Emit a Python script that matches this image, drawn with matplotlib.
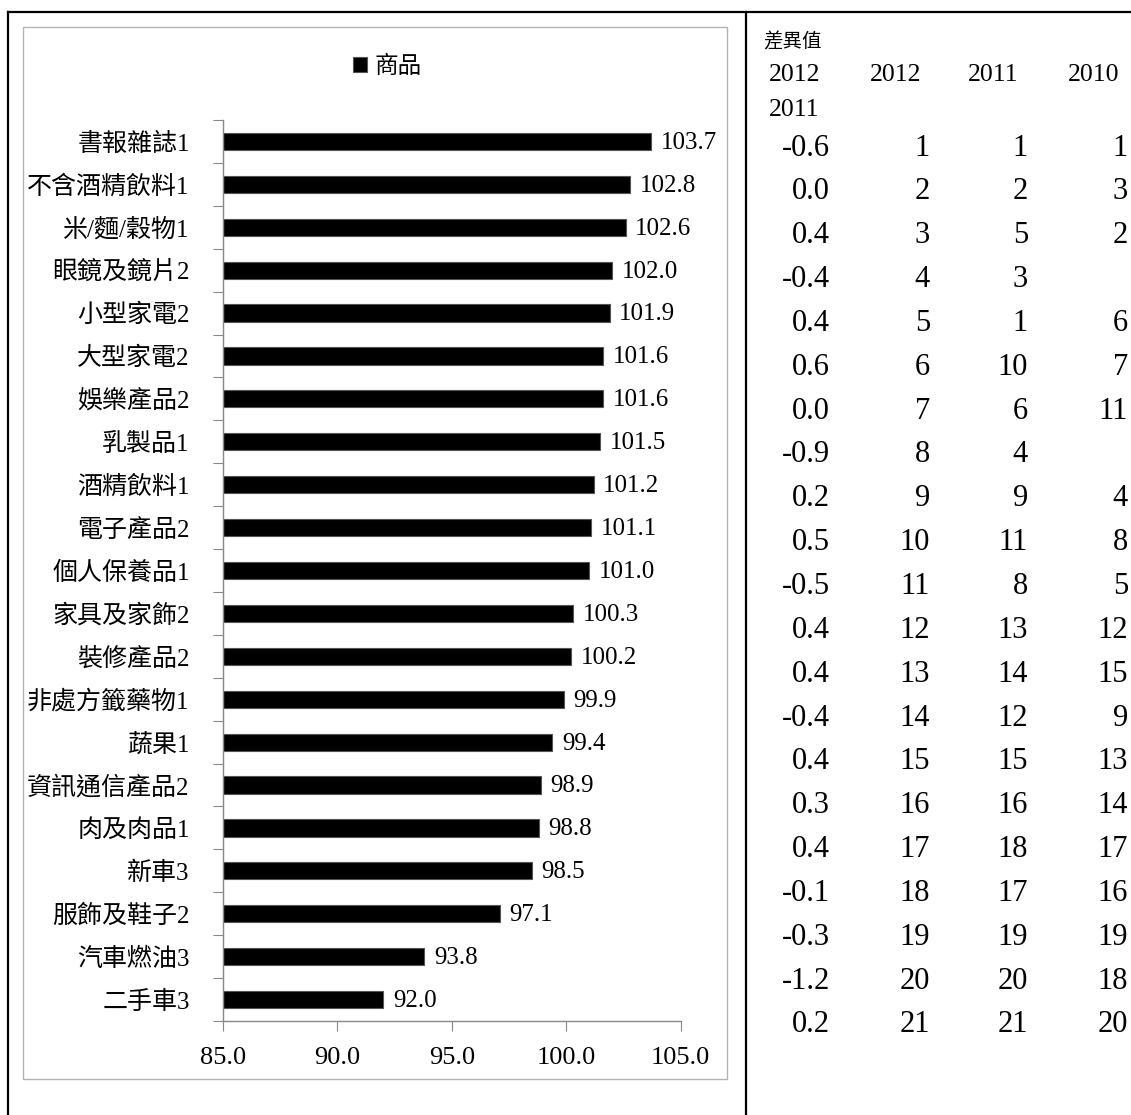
import matplotlib
matplotlib.use("Agg")
import matplotlib.pyplot as plt
from matplotlib.patches import Rectangle
from matplotlib.lines import Line2D

# 商品 2012 指數
categories = ["書報雜誌1", "不含酒精飲料1", "米/麵/穀物1", "眼鏡及鏡片2", "小型家電2",
              "大型家電2", "娛樂產品2", "乳製品1", "酒精飲料1", "電子產品2",
              "個人保養品1", "家具及家飾2", "裝修產品2", "非處方籤藥物1", "蔬果1",
              "資訊通信產品2", "肉及肉品1", "新車3", "服飾及鞋子2", "汽車燃油3", "二手車3"]
values = [103.7, 102.8, 102.6, 102.0, 101.9, 101.6, 101.6, 101.5, 101.2, 101.1,
          101.0, 100.3, 100.2, 99.9, 99.4, 98.9, 98.8, 98.5, 97.1, 93.8, 92.0]
x_ticks = [85.0, 90.0, 95.0, 100.0, 105.0]

# 右側排名表
diff_2012_2011 = [-0.6, 0.0, 0.4, -0.4, 0.4, 0.6, 0.0, -0.9, 0.2, 0.5, -0.5,
                  0.4, 0.4, -0.4, 0.4, 0.3, 0.4, -0.1, -0.3, -1.2, 0.2]
rank_2012 = list(range(1, 22))
rank_2011 = [1, 2, 5, 3, 1, 10, 6, 4, 9, 11, 8, 13, 14, 12, 15, 16, 18, 17, 19, 20, 21]
rank_2010 = [1, 3, 2, None, 6, 7, 11, None, 4, 8, 5, 12, 15, 9, 13, 14, 17, 16, 19, 18, 20]

W, H = 1131, 1115
SERIF = ["Liberation Serif", "Noto Sans CJK TC"]
plt.rcParams["font.family"] = SERIF


def fx(px):
    return px / W


def fy(py):
    return 1 - py / H


fig = plt.figure(figsize=(W / 100, H / 100), dpi=100)

# outer black frame and divider
for xs, ys in [([8, 8], [12, H]), ([8, W], [12, 12]), ([746, 746], [12, H])]:
    fig.add_artist(Line2D([fx(x) for x in xs], [fy(y) for y in ys],
                          color="black", lw=1.6, transform=fig.transFigure))

# grey chart frame
fig.add_artist(Rectangle((fx(23), fy(1079)), fx(727) - fx(23), fy(27) - fy(1079),
                         fill=False, edgecolor="#b3b3b3", lw=1.0,
                         transform=fig.transFigure))

ax_l, ax_r, ax_t, ax_b = 223, 680.5, 120, 1021
ax = fig.add_axes([fx(ax_l), fy(ax_b), fx(ax_r) - fx(ax_l), fy(ax_t) - fy(ax_b)])
ax.patch.set_alpha(0)

pos = list(range(len(categories)))
bars = ax.barh(pos, [v - x_ticks[0] for v in values], left=x_ticks[0], height=0.4,
               color="black", edgecolor="#555555", linewidth=0.8, label="商品")

for p, v in zip(pos, values):
    ax.annotate(f"{v:.1f}", xy=(v, p), xytext=(7, -1), textcoords="offset points",
                ha="left", va="center", fontsize=18)

ax.set_xlim(x_ticks[0], x_ticks[-1])
ax.set_ylim(len(categories) - 0.5, -0.5)
ax.set_xticks(x_ticks)
ax.set_xticklabels([f"{t:.1f}" for t in x_ticks], fontsize=19)
ax.set_yticks([p - 0.5 for p in pos] + [len(pos) - 0.5])
ax.set_yticklabels([])
ax.set_yticks(pos, minor=True)
ax.set_yticklabels(categories, minor=True, fontsize=18)
ax.tick_params(axis="y", which="minor", length=0, pad=24)
ax.tick_params(axis="y", which="major", length=7, color="#888888", direction="out")
ax.tick_params(axis="x", length=7, color="#888888", direction="out", pad=12)

for s in ["top", "right"]:
    ax.spines[s].set_visible(False)
for s in ["left", "bottom"]:
    ax.spines[s].set_color("#888888")
    ax.spines[s].set_linewidth(1.0)

leg = fig.legend(handles=[bars], labels=["商品"], loc="center",
                 bbox_to_anchor=(fx(387), fy(67)), frameon=False, fontsize=17,
                 handlelength=0.6, handleheight=0.6, handletextpad=0.3)

# ranking table
fig.text(fx(763), fy(42), "差異值", fontsize=14, ha="left", va="center")
fig.text(fx(769), fy(75), "2012", fontsize=18.5, ha="left", va="center")
fig.text(fx(769), fy(110), "2011", fontsize=18.5, ha="left", va="center")
for x, year in [(870, "2012"), (968, "2011"), (1068, "2010")]:
    fig.text(fx(x), fy(75), year, fontsize=18.5, ha="left", va="center")

row_top, row_bot = 148, 1025
step = (row_bot - row_top) / (len(diff_2012_2011) - 1)
for i in range(len(diff_2012_2011)):
    y = fy(row_top + i * step)
    cols = [(830, f"{diff_2012_2011[i]:.1f}"), (930, str(rank_2012[i])),
            (1028, str(rank_2011[i])),
            (1128, "" if rank_2010[i] is None else str(rank_2010[i]))]
    for x, s in cols:
        fig.text(fx(x), y, s, fontsize=22, ha="right", va="center")

fig.savefig("out.png", dpi=100)
